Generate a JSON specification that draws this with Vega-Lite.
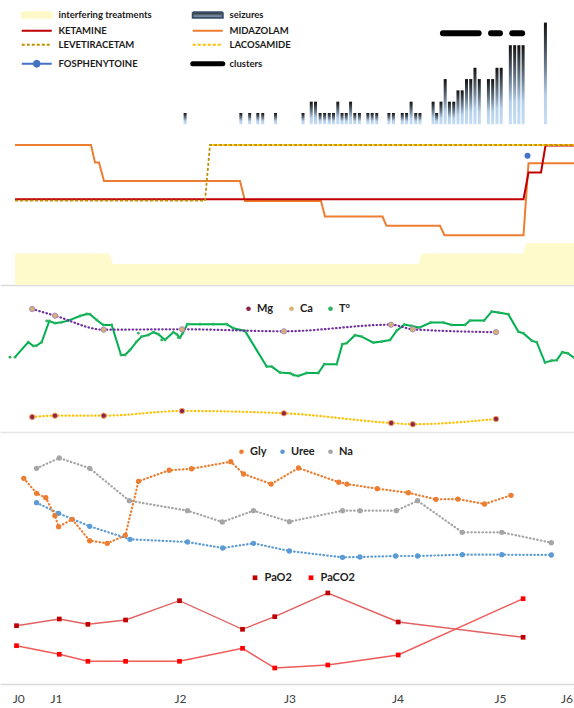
{
  "$schema": "https://vega.github.io/schema/vega-lite/v6.json",
  "padding": 0,
  "autosize": {"type": "pad"},
  "background": "white",
  "spacing": 0,
  "bounds": "flush",
  "config": {"view": {"stroke": null}, "legend": {"labelFont": "Lato"}, "axis": {"labelFont": "Lato"}},
  "resolve": {"scale": {"x": "independent", "y": "independent", "color": "independent", "shape": "independent"}, "legend": {"color": "independent", "shape": "independent"}, "axis": {"x": "independent"}},
  "datasets": {
    "seizures": [
      {"t": 36.66, "n": 1}, {"t": 48, "n": 1}, {"t": 49.8, "n": 1}, {"t": 51.46, "n": 1}, {"t": 52.46, "n": 1}, {"t": 55.06, "n": 1},
      {"t": 60.66, "n": 1}, {"t": 62.34, "n": 2}, {"t": 63.2, "n": 2}, {"t": 64.14, "n": 1}, {"t": 65.06, "n": 1}, {"t": 66, "n": 1},
      {"t": 66.86, "n": 1}, {"t": 67.74, "n": 2}, {"t": 68.6, "n": 1}, {"t": 69.46, "n": 1}, {"t": 70.34, "n": 2}, {"t": 71.2, "n": 1},
      {"t": 72.14, "n": 1}, {"t": 73.86, "n": 1}, {"t": 74.74, "n": 1}, {"t": 75.66, "n": 1}, {"t": 78.14, "n": 1}, {"t": 79.06, "n": 1},
      {"t": 80.86, "n": 1}, {"t": 81.74, "n": 1}, {"t": 82.66, "n": 2}, {"t": 83.6, "n": 1}, {"t": 84.46, "n": 1},
      {"t": 87.14, "n": 2}, {"t": 87.86, "n": 1}, {"t": 88.74, "n": 2}, {"t": 89.6, "n": 4}, {"t": 90.46, "n": 2}, {"t": 91.34, "n": 2},
      {"t": 92.2, "n": 3}, {"t": 93.06, "n": 3}, {"t": 93.94, "n": 4}, {"t": 94.8, "n": 4}, {"t": 95.66, "n": 5}, {"t": 96.54, "n": 4},
      {"t": 98.4, "n": 4}, {"t": 99.26, "n": 4}, {"t": 100.14, "n": 5}, {"t": 101, "n": 5},
      {"t": 102.86, "n": 7}, {"t": 103.74, "n": 7}, {"t": 104.6, "n": 7}, {"t": 105.46, "n": 7}, {"t": 110, "n": 9}
    ],
    "clusters": [
      {"series": "clusters", "t": 89.14, "t2": 96.4, "n": 8.05},
      {"series": "clusters", "t": 98.94, "t2": 100.74, "n": 8.05},
      {"series": "clusters", "t": 103.26, "t2": 105.26, "n": 8.05}
    ],
    "interfering": [
      {"t": 3, "n": 3}, {"t": 21.8, "n": 3}, {"t": 22.6, "n": 2}, {"t": 83.7, "n": 2}, {"t": 84.3, "n": 3},
      {"t": 104.7, "n": 3}, {"t": 105.3, "n": 4}, {"t": 114.8, "n": 4}
    ],
    "drugs": [
      {"drug": "MIDAZOLAM", "t": 3, "v": 1.0}, {"drug": "MIDAZOLAM", "t": 18.2, "v": 1.0}, {"drug": "MIDAZOLAM", "t": 19, "v": 0.68},
      {"drug": "MIDAZOLAM", "t": 19.8, "v": 0.68}, {"drug": "MIDAZOLAM", "t": 20.8, "v": 0.345}, {"drug": "MIDAZOLAM", "t": 48, "v": 0.345},
      {"drug": "MIDAZOLAM", "t": 49, "v": -0.02}, {"drug": "MIDAZOLAM", "t": 64.2, "v": -0.02}, {"drug": "MIDAZOLAM", "t": 65, "v": -0.3},
      {"drug": "MIDAZOLAM", "t": 76.5, "v": -0.3}, {"drug": "MIDAZOLAM", "t": 77.3, "v": -0.47}, {"drug": "MIDAZOLAM", "t": 88, "v": -0.47},
      {"drug": "MIDAZOLAM", "t": 88.9, "v": -0.64}, {"drug": "MIDAZOLAM", "t": 104.7, "v": -0.64}, {"drug": "MIDAZOLAM", "t": 105.7, "v": 0.67},
      {"drug": "MIDAZOLAM", "t": 114.8, "v": 0.67},
      {"drug": "KETAMINE", "t": 3, "v": 0.013}, {"drug": "KETAMINE", "t": 104.7, "v": 0.013}, {"drug": "KETAMINE", "t": 105.7, "v": 0.5},
      {"drug": "KETAMINE", "t": 108.2, "v": 0.5}, {"drug": "KETAMINE", "t": 109.1, "v": 0.99}, {"drug": "KETAMINE", "t": 114.8, "v": 0.99},
      {"drug": "LEVETIRACETAM", "t": 3, "v": -0.013}, {"drug": "LEVETIRACETAM", "t": 41, "v": -0.013}, {"drug": "LEVETIRACETAM", "t": 42, "v": 1.0},
      {"drug": "LEVETIRACETAM", "t": 114.8, "v": 1.0},
      {"drug": "LACOSAMIDE", "t": 42, "v": 1.0}, {"drug": "LACOSAMIDE", "t": 114.8, "v": 1.0},
      {"drug": "FOSPHENYTOINE", "t": 105.5, "v": 0.805}
    ],
    "labs1": [
      {"series": "T°", "t": 2, "v": 36.14, "iso": 1}, {"series": "T°", "t": 3, "v": 36.14, "iso": 0}, {"series": "T°", "t": 5.66, "v": 36.89, "iso": 0},
      {"series": "T°", "t": 6.66, "v": 36.7, "iso": 0}, {"series": "T°", "t": 7.34, "v": 36.72, "iso": 0}, {"series": "T°", "t": 8.34, "v": 36.89, "iso": 0},
      {"series": "T°", "t": 9.34, "v": 37.95, "iso": 1}, {"series": "T°", "t": 9.86, "v": 37.95, "iso": 0}, {"series": "T°", "t": 11, "v": 37.84, "iso": 0},
      {"series": "T°", "t": 12.34, "v": 37.89, "iso": 0}, {"series": "T°", "t": 13.66, "v": 37.97, "iso": 0}, {"series": "T°", "t": 16, "v": 38.2, "iso": 0},
      {"series": "T°", "t": 17.34, "v": 38.3, "iso": 0}, {"series": "T°", "t": 18, "v": 38.29, "iso": 0}, {"series": "T°", "t": 19.34, "v": 38.0, "iso": 0},
      {"series": "T°", "t": 20.66, "v": 37.75, "iso": 0}, {"series": "T°", "t": 22.34, "v": 37.75, "iso": 0}, {"series": "T°", "t": 24.2, "v": 36.25, "iso": 0},
      {"series": "T°", "t": 25, "v": 36.25, "iso": 0}, {"series": "T°", "t": 26, "v": 36.5, "iso": 0}, {"series": "T°", "t": 27.34, "v": 36.92, "iso": 0},
      {"series": "T°", "t": 27.66, "v": 37.34, "iso": 1}, {"series": "T°", "t": 28.34, "v": 37.17, "iso": 0}, {"series": "T°", "t": 29.66, "v": 37.25, "iso": 0},
      {"series": "T°", "t": 30.66, "v": 37.39, "iso": 0}, {"series": "T°", "t": 31.66, "v": 37.29, "iso": 0}, {"series": "T°", "t": 32.34, "v": 37.0, "iso": 1},
      {"series": "T°", "t": 33, "v": 37.0, "iso": 0}, {"series": "T°", "t": 34.66, "v": 37.39, "iso": 0}, {"series": "T°", "t": 35.34, "v": 37.29, "iso": 0},
      {"series": "T°", "t": 35.66, "v": 37.12, "iso": 1}, {"series": "T°", "t": 36, "v": 37.12, "iso": 0}, {"series": "T°", "t": 36.54, "v": 37.34, "iso": 0},
      {"series": "T°", "t": 37.46, "v": 37.79, "iso": 0}, {"series": "T°", "t": 40, "v": 37.79, "iso": 0}, {"series": "T°", "t": 42.66, "v": 37.79, "iso": 0},
      {"series": "T°", "t": 45.34, "v": 37.79, "iso": 0}, {"series": "T°", "t": 46.66, "v": 37.59, "iso": 0}, {"series": "T°", "t": 49, "v": 37.45, "iso": 0},
      {"series": "T°", "t": 53.34, "v": 35.67, "iso": 0}, {"series": "T°", "t": 54.34, "v": 35.67, "iso": 0}, {"series": "T°", "t": 56, "v": 35.37, "iso": 0},
      {"series": "T°", "t": 58, "v": 35.34, "iso": 0}, {"series": "T°", "t": 58.66, "v": 35.25, "iso": 0}, {"series": "T°", "t": 59.66, "v": 35.2, "iso": 0},
      {"series": "T°", "t": 61.34, "v": 35.35, "iso": 0}, {"series": "T°", "t": 63.66, "v": 35.35, "iso": 0}, {"series": "T°", "t": 64.86, "v": 35.79, "iso": 0},
      {"series": "T°", "t": 67.34, "v": 35.79, "iso": 0}, {"series": "T°", "t": 68.46, "v": 36.79, "iso": 0}, {"series": "T°", "t": 69.34, "v": 36.84, "iso": 0},
      {"series": "T°", "t": 71, "v": 37.24, "iso": 0}, {"series": "T°", "t": 72.34, "v": 37.17, "iso": 0}, {"series": "T°", "t": 74.66, "v": 36.87, "iso": 0},
      {"series": "T°", "t": 76.34, "v": 36.92, "iso": 0}, {"series": "T°", "t": 78, "v": 37.0, "iso": 0}, {"series": "T°", "t": 79.34, "v": 37.47, "iso": 0},
      {"series": "T°", "t": 80.86, "v": 37.77, "iso": 0}, {"series": "T°", "t": 82.34, "v": 37.7, "iso": 0}, {"series": "T°", "t": 83.86, "v": 37.62, "iso": 0},
      {"series": "T°", "t": 86.14, "v": 37.87, "iso": 0}, {"series": "T°", "t": 88.66, "v": 37.87, "iso": 0}, {"series": "T°", "t": 90.34, "v": 37.75, "iso": 0},
      {"series": "T°", "t": 93, "v": 37.75, "iso": 0}, {"series": "T°", "t": 94, "v": 37.97, "iso": 0}, {"series": "T°", "t": 96.8, "v": 37.97, "iso": 0},
      {"series": "T°", "t": 98.34, "v": 38.42, "iso": 0}, {"series": "T°", "t": 99.66, "v": 38.37, "iso": 0}, {"series": "T°", "t": 101.66, "v": 38.29, "iso": 0},
      {"series": "T°", "t": 103.66, "v": 37.42, "iso": 0}, {"series": "T°", "t": 104.66, "v": 37.34, "iso": 0}, {"series": "T°", "t": 106.34, "v": 36.97, "iso": 0},
      {"series": "T°", "t": 107.34, "v": 36.89, "iso": 0}, {"series": "T°", "t": 109, "v": 35.87, "iso": 0}, {"series": "T°", "t": 110.34, "v": 35.97, "iso": 0},
      {"series": "T°", "t": 111.34, "v": 35.99, "iso": 0}, {"series": "T°", "t": 112.46, "v": 36.39, "iso": 0}, {"series": "T°", "t": 113.54, "v": 36.34, "iso": 0},
      {"series": "T°", "t": 114.8, "v": 36.12, "iso": 0},
      {"series": "Ca", "t": 6.44, "v": 2.42, "iso": 0}, {"series": "Ca", "t": 11, "v": 2.286, "iso": 0}, {"series": "Ca", "t": 20.74, "v": 2.006, "iso": 0},
      {"series": "Ca", "t": 36.4, "v": 2.014, "iso": 0}, {"series": "Ca", "t": 56.78, "v": 1.974, "iso": 0}, {"series": "Ca", "t": 78.2, "v": 2.106, "iso": 0},
      {"series": "Ca", "t": 82.56, "v": 2.014, "iso": 0}, {"series": "Ca", "t": 99.2, "v": 1.956, "iso": 0},
      {"series": "Mg", "t": 6.44, "v": 0.883, "iso": 0}, {"series": "Mg", "t": 11, "v": 0.905, "iso": 0}, {"series": "Mg", "t": 20.74, "v": 0.905, "iso": 0},
      {"series": "Mg", "t": 36.4, "v": 0.983, "iso": 0}, {"series": "Mg", "t": 56.78, "v": 0.945, "iso": 0}, {"series": "Mg", "t": 78.24, "v": 0.783, "iso": 0},
      {"series": "Mg", "t": 82.56, "v": 0.762, "iso": 0}, {"series": "Mg", "t": 99.2, "v": 0.85, "iso": 0}
    ],
    "labs2": [
      {"series": "Gly", "t": 4.76, "v": 8.11}, {"series": "Gly", "t": 7.32, "v": 7.11}, {"series": "Gly", "t": 9.16, "v": 6.82},
      {"series": "Gly", "t": 10.98, "v": 5.62}, {"series": "Gly", "t": 11.72, "v": 4.89}, {"series": "Gly", "t": 14.44, "v": 5.38},
      {"series": "Gly", "t": 17.94, "v": 3.95}, {"series": "Gly", "t": 21.46, "v": 3.78}, {"series": "Gly", "t": 25.06, "v": 4.31},
      {"series": "Gly", "t": 27.7, "v": 7.91}, {"series": "Gly", "t": 33.84, "v": 8.65}, {"series": "Gly", "t": 38.32, "v": 8.75},
      {"series": "Gly", "t": 46.16, "v": 9.22}, {"series": "Gly", "t": 48.72, "v": 8.4}, {"series": "Gly", "t": 54.22, "v": 7.73},
      {"series": "Gly", "t": 59.7, "v": 8.8}, {"series": "Gly", "t": 67.76, "v": 7.85}, {"series": "Gly", "t": 69.38, "v": 7.73},
      {"series": "Gly", "t": 75.46, "v": 7.42}, {"series": "Gly", "t": 81.68, "v": 7.15}, {"series": "Gly", "t": 87.18, "v": 6.71},
      {"series": "Gly", "t": 91.58, "v": 6.73}, {"series": "Gly", "t": 96.92, "v": 6.4}, {"series": "Gly", "t": 102.2, "v": 6.98},
      {"series": "Uree", "t": 7.32, "v": 13.46}, {"series": "Uree", "t": 11.72, "v": 11.34}, {"series": "Uree", "t": 17.94, "v": 8.74},
      {"series": "Uree", "t": 26, "v": 6.14}, {"series": "Uree", "t": 37.5, "v": 5.6}, {"series": "Uree", "t": 44.54, "v": 4.4},
      {"series": "Uree", "t": 50.7, "v": 5.34}, {"series": "Uree", "t": 57.88, "v": 3.8}, {"series": "Uree", "t": 68.5, "v": 2.54},
      {"series": "Uree", "t": 72, "v": 2.6}, {"series": "Uree", "t": 79.12, "v": 2.8}, {"series": "Uree", "t": 83.52, "v": 2.8},
      {"series": "Uree", "t": 92.46, "v": 3.06}, {"series": "Uree", "t": 100.36, "v": 3.06}, {"series": "Uree", "t": 110.26, "v": 3.0},
      {"series": "Na", "t": 7.32, "v": 146.34}, {"series": "Na", "t": 11.86, "v": 148.4}, {"series": "Na", "t": 17.94, "v": 146.34},
      {"series": "Na", "t": 25.86, "v": 139.86}, {"series": "Na", "t": 37.5, "v": 137.86}, {"series": "Na", "t": 44.46, "v": 135.6},
      {"series": "Na", "t": 50.7, "v": 137.86}, {"series": "Na", "t": 57.88, "v": 135.66}, {"series": "Na", "t": 68.5, "v": 137.86},
      {"series": "Na", "t": 72, "v": 137.86}, {"series": "Na", "t": 79.26, "v": 137.86}, {"series": "Na", "t": 83.52, "v": 139.86},
      {"series": "Na", "t": 92.46, "v": 133.54}, {"series": "Na", "t": 100.36, "v": 133.54}, {"series": "Na", "t": 110.26, "v": 131.46}
    ],
    "gas": [
      {"series": "PaO2", "t": 3.3, "v": 88.6}, {"series": "PaO2", "t": 11.86, "v": 102}, {"series": "PaO2", "t": 17.58, "v": 91.4},
      {"series": "PaO2", "t": 25.12, "v": 100}, {"series": "PaO2", "t": 35.9, "v": 138.6}, {"series": "PaO2", "t": 48.5, "v": 81.4},
      {"series": "PaO2", "t": 54.94, "v": 106.6}, {"series": "PaO2", "t": 65.56, "v": 154}, {"series": "PaO2", "t": 79.64, "v": 96},
      {"series": "PaO2", "t": 104.62, "v": 65.4},
      {"series": "PaCO2", "t": 3.3, "v": 44.65}, {"series": "PaCO2", "t": 11.86, "v": 40.35}, {"series": "PaCO2", "t": 17.58, "v": 36.85},
      {"series": "PaCO2", "t": 25.12, "v": 36.85}, {"series": "PaCO2", "t": 35.9, "v": 36.85}, {"series": "PaCO2", "t": 48.5, "v": 43.35},
      {"series": "PaCO2", "t": 54.94, "v": 33.5}, {"series": "PaCO2", "t": 65.56, "v": 35}, {"series": "PaCO2", "t": 79.64, "v": 40},
      {"series": "PaCO2", "t": 104.62, "v": 68.15}
    ]
  },
  "vconcat": [
    {
      "width": 574, "height": 128,
      "encoding": {"x": {"field": "t", "type": "quantitative", "scale": {"domain": [0, 114.8], "nice": false, "zero": false}, "axis": null}},
      "layer": [
        {
          "data": {"name": "seizures"},
          "mark": {"type": "bar", "width": 3, "color": {"gradient": "linear", "x1": 0, "y1": 0, "x2": 0, "y2": 1,
            "stops": [{"offset": 0, "color": "#101010"}, {"offset": 0.45, "color": "#6f8296"}, {"offset": 0.72, "color": "#b4d0ec"}, {"offset": 1, "color": "#c6def4"}]}},
          "encoding": {
            "y": {"field": "n", "type": "quantitative", "scale": {"domain": [-0.33, 11], "nice": false, "zero": false}, "axis": null},
            "y2": {"datum": 0}
          }
        },
        {
          "data": {"name": "clusters"},
          "mark": {"type": "rule", "strokeWidth": 6, "strokeCap": "round"},
          "encoding": {
            "x2": {"field": "t2"},
            "y": {"field": "n", "type": "quantitative", "scale": {"domain": [-0.33, 11], "nice": false, "zero": false}, "axis": null},
            "color": {
              "field": "series", "type": "nominal",
              "scale": {"domain": ["interfering treatments", "KETAMINE", "LEVETIRACETAM", "FOSPHENYTOINE", "seizures", "MIDAZOLAM", "LACOSAMIDE", "clusters"],
                        "range": ["#fff9c9", "#c00000", "#bf9000", "#4472c4", "#3a4d66", "#ed7d31", "#ffc000", "#000000"]},
              "legend": {
                "orient": "none", "legendX": 12, "legendY": 10, "title": null, "columns": 2, "padding": 0,
                "symbolType": "M-3,0H3", "symbolSize": 100, "symbolOffset": 20,
                "labelFont": "Lato", "labelFontSize": 9.5, "labelFontWeight": "bold", "labelColor": "#1a1a1a", "labelOffset": 17,
                "rowPadding": 3, "columnPadding": 30,
                "encode": {
                  "symbols": {
                    "update": {
                      "shape": {"signal": "datum.value === 'interfering treatments' || datum.value === 'seizures' ? 'M-3,-0.55H3V0.55H-3Z' : datum.value === 'FOSPHENYTOINE' ? 'M-3,0H3M0.6,0L0.42,0.42L0,0.6L-0.42,0.42L-0.6,0L-0.42,-0.42L0,-0.6L0.42,-0.42Z' : 'M-3,0H3'"},
                      "fill": {"signal": "datum.value === 'interfering treatments' ? '#fff9c9' : datum.value === 'seizures' ? {gradient: 'linear', x1: 0, y1: 0, x2: 0, y2: 1, stops: [{offset: 0, color: '#1a1a1a'}, {offset: 1, color: '#a9c8e8'}]} : datum.value === 'FOSPHENYTOINE' ? '#4472c4' : 'transparent'"},
                      "stroke": {"signal": "datum.value === 'KETAMINE' ? '#c00000' : datum.value === 'MIDAZOLAM' ? '#ed7d31' : datum.value === 'LEVETIRACETAM' ? '#bf9000' : datum.value === 'LACOSAMIDE' ? '#ffc000' : datum.value === 'FOSPHENYTOINE' ? '#8eaadb' : datum.value === 'clusters' ? '#000000' : 'transparent'"},
                      "strokeWidth": {"signal": "datum.value === 'clusters' ? 5 : 2"},
                      "strokeDash": {"signal": "datum.value === 'LEVETIRACETAM' || datum.value === 'LACOSAMIDE' ? [3, 2] : [1, 0]"},
                      "strokeCap": {"signal": "datum.value === 'clusters' ? 'round' : 'butt'"},
                      "opacity": {"value": 1}
                    }
                  }
                }
              }
            }
          }
        }
      ]
    },
    {
      "width": 574, "height": 157,
      "encoding": {"x": {"field": "t", "type": "quantitative", "scale": {"domain": [0, 114.8], "nice": false, "zero": false},
        "axis": {"title": null, "labels": false, "ticks": false, "grid": false, "domain": true, "domainColor": "#dcdcdc", "domainWidth": 1.5}}},
      "layer": [
        {
          "data": {"name": "interfering"},
          "mark": {"type": "area", "color": "#fffacb", "opacity": 1},
          "encoding": {"y": {"field": "n", "type": "quantitative", "scale": {"domain": [0, 14.95], "nice": false, "zero": false}, "axis": null}, "y2": {"datum": 0}}
        },
        {
          "data": {"name": "drugs"}, "transform": [{"filter": "datum.drug === 'MIDAZOLAM'"}],
          "mark": {"type": "line", "color": "#ed7d31", "strokeWidth": 2},
          "encoding": {"y": {"field": "v", "type": "quantitative", "scale": {"domain": [-1.545, 1.309], "nice": false, "zero": false}, "axis": null}}
        },
        {
          "data": {"name": "drugs"}, "transform": [{"filter": "datum.drug === 'KETAMINE'"}],
          "mark": {"type": "line", "color": "#c00000", "strokeWidth": 2},
          "encoding": {"y": {"field": "v", "type": "quantitative", "scale": {"domain": [-1.545, 1.309], "nice": false, "zero": false}, "axis": null}}
        },
        {
          "data": {"name": "drugs"}, "transform": [{"filter": "datum.drug === 'LEVETIRACETAM'"}],
          "mark": {"type": "line", "color": "#bf9000", "strokeWidth": 1.8, "strokeDash": [3, 2]},
          "encoding": {"y": {"field": "v", "type": "quantitative", "scale": {"domain": [-1.545, 1.309], "nice": false, "zero": false}, "axis": null}}
        },
        {
          "data": {"name": "drugs"}, "transform": [{"filter": "datum.drug === 'LACOSAMIDE'"}],
          "mark": {"type": "line", "color": "#ffc000", "strokeWidth": 1.8, "strokeDash": [2, 3], "strokeDashOffset": 2.5},
          "encoding": {"y": {"field": "v", "type": "quantitative", "scale": {"domain": [-1.545, 1.309], "nice": false, "zero": false}, "axis": null}}
        },
        {
          "data": {"name": "drugs"}, "transform": [{"filter": "datum.drug === 'FOSPHENYTOINE'"}],
          "mark": {"type": "circle", "color": "#4472c4", "size": 36, "opacity": 1},
          "encoding": {"y": {"field": "v", "type": "quantitative", "scale": {"domain": [-1.545, 1.309], "nice": false, "zero": false}, "axis": null}}
        }
      ],
      "resolve": {"scale": {"y": "independent"}}
    },
    {
      "width": 574, "height": 147,
      "data": {"name": "labs1"},
      "encoding": {"x": {"field": "t", "type": "quantitative", "scale": {"domain": [0, 114.8], "nice": false, "zero": false},
        "axis": {"title": null, "labels": false, "ticks": false, "grid": false, "domain": true, "domainColor": "#e6e6e6", "domainWidth": 1.5}}},
      "layer": [
        {
          "transform": [{"filter": "datum.series === 'T°' && datum.iso === 0"}],
          "mark": {"type": "line", "color": "#00b050", "strokeWidth": 2},
          "encoding": {"y": {"field": "v", "type": "quantitative", "scale": {"domain": [32.4, 39.75], "nice": false, "zero": false}, "axis": null}}
        },
        {
          "transform": [{"filter": "datum.series === 'T°'"}],
          "mark": {"type": "circle", "size": 8, "opacity": 1},
          "encoding": {
            "y": {"field": "v", "type": "quantitative", "scale": {"domain": [32.4, 39.75], "nice": false, "zero": false}, "axis": null},
            "color": {"field": "series", "type": "nominal", "scale": {"domain": ["Mg", "Ca", "T°"], "range": ["#8e2443", "#d9b36e", "#2db35d"]},
              "legend": {"orient": "none", "legendX": 243, "legendY": 18, "direction": "horizontal", "title": null, "padding": 0,
                "symbolType": "circle", "symbolSize": 22, "labelFont": "Lato", "labelFontSize": 11, "labelFontWeight": "bold", "labelColor": "#222222",
                "labelOffset": 3, "columnPadding": 12}}
          }
        },
        {
          "transform": [{"filter": "datum.series === 'Ca'"}],
          "mark": {"type": "line", "color": "#7030a0", "strokeWidth": 2.2, "strokeDash": [0.5, 3.2], "strokeCap": "round", "interpolate": "monotone"},
          "encoding": {"y": {"field": "v", "type": "quantitative", "scale": {"domain": [-0.04, 2.9], "nice": false, "zero": false}, "axis": null}}
        },
        {
          "transform": [{"filter": "datum.series === 'Ca'"}],
          "mark": {"type": "circle", "size": 28, "opacity": 1, "stroke": "#a88bc4", "strokeWidth": 1},
          "encoding": {
            "y": {"field": "v", "type": "quantitative", "scale": {"domain": [-0.04, 2.9], "nice": false, "zero": false}, "axis": null},
            "color": {"field": "series", "type": "nominal"}
          }
        },
        {
          "transform": [{"filter": "datum.series === 'Mg'"}],
          "mark": {"type": "line", "color": "#ffc000", "strokeWidth": 2.2, "strokeDash": [0.5, 3.2], "strokeCap": "round", "interpolate": "monotone"},
          "encoding": {"y": {"field": "v", "type": "quantitative", "scale": {"domain": [0.633, 3.083], "nice": false, "zero": false}, "axis": null}}
        },
        {
          "transform": [{"filter": "datum.series === 'Mg'"}],
          "mark": {"type": "circle", "size": 28, "opacity": 1, "stroke": "#f0a060", "strokeWidth": 1},
          "encoding": {
            "y": {"field": "v", "type": "quantitative", "scale": {"domain": [0.633, 3.083], "nice": false, "zero": false}, "axis": null},
            "color": {"field": "series", "type": "nominal"}
          }
        }
      ],
      "resolve": {"scale": {"y": "independent"}}
    },
    {
      "width": 574, "height": 133,
      "data": {"name": "labs2"},
      "encoding": {"x": {"field": "t", "type": "quantitative", "scale": {"domain": [0, 114.8], "nice": false, "zero": false}, "axis": null}},
      "layer": [
        {
          "transform": [{"filter": "datum.series === 'Na'"}],
          "mark": {"type": "line", "color": "#a5a5a5", "strokeWidth": 2.2, "strokeDash": [0.5, 3.2], "strokeCap": "round"},
          "encoding": {"y": {"field": "v", "type": "quantitative", "scale": {"domain": [127, 153.6], "nice": false, "zero": false}, "axis": null}}
        },
        {
          "transform": [{"filter": "datum.series === 'Na'"}],
          "mark": {"type": "circle", "size": 28, "opacity": 1},
          "encoding": {
            "y": {"field": "v", "type": "quantitative", "scale": {"domain": [127, 153.6], "nice": false, "zero": false}, "axis": null},
            "color": {"field": "series", "type": "nominal", "scale": {"domain": ["Gly", "Uree", "Na"], "range": ["#ed7d31", "#5b9bd5", "#a5a5a5"]},
              "legend": {"orient": "none", "legendX": 236, "legendY": 14, "direction": "horizontal", "title": null, "padding": 0,
                "symbolType": "circle", "symbolSize": 22, "labelFont": "Lato", "labelFontSize": 11, "labelFontWeight": "bold", "labelColor": "#222222",
                "labelOffset": 3, "columnPadding": 10}}
          }
        },
        {
          "transform": [{"filter": "datum.series === 'Uree'"}],
          "mark": {"type": "line", "color": "#5b9bd5", "strokeWidth": 2.2, "strokeDash": [0.5, 3.2], "strokeCap": "round"},
          "encoding": {"y": {"field": "v", "type": "quantitative", "scale": {"domain": [1.0, 27.6], "nice": false, "zero": false}, "axis": null}}
        },
        {
          "transform": [{"filter": "datum.series === 'Uree'"}],
          "mark": {"type": "circle", "size": 28, "opacity": 1},
          "encoding": {
            "y": {"field": "v", "type": "quantitative", "scale": {"domain": [1.0, 27.6], "nice": false, "zero": false}, "axis": null},
            "color": {"field": "series", "type": "nominal"}
          }
        },
        {
          "transform": [{"filter": "datum.series === 'Gly'"}],
          "mark": {"type": "line", "color": "#ed7d31", "strokeWidth": 2.2, "strokeDash": [0.5, 3.2], "strokeCap": "round"},
          "encoding": {"y": {"field": "v", "type": "quantitative", "scale": {"domain": [2.333, 11.2], "nice": false, "zero": false}, "axis": null}}
        },
        {
          "transform": [{"filter": "datum.series === 'Gly'"}],
          "mark": {"type": "circle", "size": 28, "opacity": 1},
          "encoding": {
            "y": {"field": "v", "type": "quantitative", "scale": {"domain": [2.333, 11.2], "nice": false, "zero": false}, "axis": null},
            "color": {"field": "series", "type": "nominal"}
          }
        }
      ],
      "resolve": {"scale": {"y": "independent"}}
    },
    {
      "width": 574, "height": 119,
      "data": {"name": "gas"},
      "encoding": {"x": {"field": "t", "type": "quantitative", "scale": {"domain": [0, 114.8], "nice": false, "zero": false},
        "axis": {"title": null, "ticks": false, "grid": false, "domain": true, "domainColor": "#d9d9d9", "domainWidth": 1.5,
          "values": [3.66, 11.2, 36, 57.9, 79.5, 100, 113.3],
          "labelExpr": "datum.value < 7 ? 'J0' : datum.value < 20 ? 'J1' : datum.value < 45 ? 'J2' : datum.value < 70 ? 'J3' : datum.value < 90 ? 'J4' : datum.value < 107 ? 'J5' : 'J6'",
          "labelFont": "Lato", "labelFontSize": 12, "labelColor": "#404040", "labelPadding": 9, "labelOverlap": false, "labelFlush": false, "labelBound": false}}},
      "layer": [
        {
          "transform": [{"filter": "datum.series === 'PaO2'"}],
          "mark": {"type": "line", "color": "#e26262", "strokeWidth": 1.4},
          "encoding": {"y": {"field": "v", "type": "quantitative", "scale": {"domain": [-28, 210], "nice": false, "zero": false}, "axis": null}}
        },
        {
          "transform": [{"filter": "datum.series === 'PaCO2'"}],
          "mark": {"type": "line", "color": "#f25a5a", "strokeWidth": 1.4},
          "encoding": {"y": {"field": "v", "type": "quantitative", "scale": {"domain": [25.5, 85], "nice": false, "zero": false}, "axis": null}}
        },
        {
          "transform": [{"filter": "datum.series === 'PaO2'"}],
          "mark": {"type": "square", "size": 22, "opacity": 1},
          "encoding": {
            "y": {"field": "v", "type": "quantitative", "scale": {"domain": [-28, 210], "nice": false, "zero": false}, "axis": null},
            "color": {"field": "series", "type": "nominal", "scale": {"domain": ["PaO2", "PaCO2"], "range": ["#c00000", "#ff0000"]},
              "legend": {"orient": "none", "legendX": 249.5, "legendY": 7, "direction": "horizontal", "title": null, "padding": 0,
                "symbolType": "square", "symbolSize": 22, "labelFont": "Lato", "labelFontSize": 11, "labelFontWeight": "bold", "labelColor": "#222222",
                "labelOffset": 4, "columnPadding": 13}}
          }
        },
        {
          "transform": [{"filter": "datum.series === 'PaCO2'"}],
          "mark": {"type": "square", "size": 22, "opacity": 1},
          "encoding": {
            "y": {"field": "v", "type": "quantitative", "scale": {"domain": [25.5, 85], "nice": false, "zero": false}, "axis": null},
            "color": {"field": "series", "type": "nominal"}
          }
        }
      ],
      "resolve": {"scale": {"y": "independent"}}
    }
  ]
}
